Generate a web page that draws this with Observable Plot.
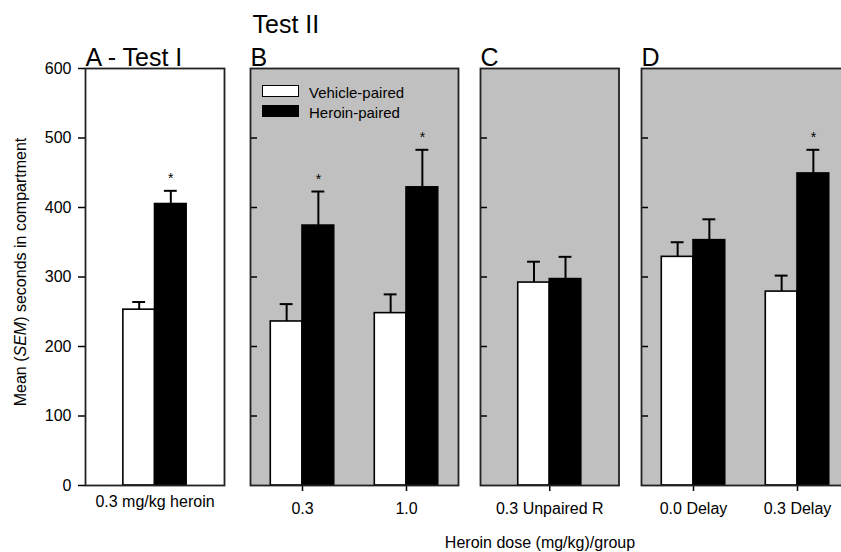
<!DOCTYPE html>
<html>
<head>
<meta charset="utf-8">
<script src="https://cdn.jsdelivr.net/npm/d3@7"></script>
<script src="https://cdn.jsdelivr.net/npm/@observablehq/plot@0.6"></script>
<style>
  html, body { margin: 0; padding: 0; background: #fff; }
  #chart { position: relative; width: 841px; height: 552px; overflow: hidden;
           font-family: "Liberation Sans", Arial, sans-serif; color: #000; background: #fff; }
  .abs { position: absolute; white-space: nowrap; }
  #chart svg { position: absolute; top: 0; overflow: visible; }
</style>
</head>
<body>
<div id="chart"></div>
<script>
// ---------------- data ----------------
const panelIds = ["A", "B", "C", "D"];
const panelTitles = ["A - Test I", "B", "C", "D"];
const supTitle = "Test II";
const groups = ["0.3 mg/kg heroin", "0.3", "1.0", "0.3 Unpaired R", "0.0 Delay", "0.3 Delay"];
const groupPanel = ["A", "B", "B", "C", "D", "D"];
const seriesNames = ["Vehicle-paired", "Heroin-paired"];
const vehicleMean = [253, 236, 248, 292, 329, 279];
const vehicleSEM = [11, 25, 27, 30, 21, 23];
const heroinMean = [405, 374, 429, 297, 353, 449];
const heroinSEM = [19, 49, 54, 32, 30, 34];
const heroinSignificant = [true, true, true, false, false, true];
const yTicks = [0, 100, 200, 300, 400, 500, 600];
const yLabel = ["Mean (", "SEM", ") seconds in compartment"];
const xLabel = "Heroin dose (mg/kg)/group";

// ---------------- layout / style ----------------
const FONT = '"Liberation Sans", Arial, sans-serif';
const H = 530, MT = 68, MB = H - 485;
const layout = {
  A: {left: 85,    inner: 139,   pad: 0.67, bg: "#ffffff", mL: 85, tick: 0},
  B: {left: 250,   inner: 208,   pad: 0.5,  bg: "#c0c0c0", mL: 6,  tick: 6},
  C: {left: 479.5, inner: 138.5, pad: 0.67, bg: "#c0c0c0", mL: 6,  tick: 6},
  D: {left: 640.5, inner: 208,   pad: 0.5,  bg: "#c0c0c0", mL: 6,  tick: 6}
};
const barW = 0.305, capHalf = 0.062;
const chart = document.getElementById("chart");

panelIds.forEach((p, pi) => {
  const L = layout[p];
  const idx = groups.map((g, i) => i).filter(i => groupPanel[i] === p);
  const rows = [];
  idx.forEach((gi, k) => {
    rows.push({k, series: seriesNames[0], mean: vehicleMean[gi], sem: vehicleSEM[gi], sig: false, side: -1});
    rows.push({k, series: seriesNames[1], mean: heroinMean[gi], sem: heroinSEM[gi], sig: heroinSignificant[gi], side: 1});
  });
  rows.forEach(d => {
    d.x1 = d.side < 0 ? d.k - barW : d.k;
    d.x2 = d.side < 0 ? d.k : d.k + barW;
    d.c = d.k + d.side * barW / 2;
    d.top = d.mean + d.sem;
  });
  const mR = 6;
  const width = L.mL + L.inner + mR;
  const marks = [
    Plot.frame({fill: L.bg, stroke: "none"}),
    Plot.rectY(rows, {x1: "x1", x2: "x2", y1: 0, y2: "mean", fill: "series", stroke: "#000", strokeWidth: 1.6}),
    Plot.ruleX(rows, {x: "c", y1: "mean", y2: "top", stroke: "#000", strokeWidth: 2}),
    Plot.ruleY(rows, {y: "top", x1: d => d.c - capHalf, x2: d => d.c + capHalf, stroke: "#000", strokeWidth: 2}),
    Plot.text(rows.filter(d => d.sig), {x: "c", y: "top", text: d => "*", dy: -12, fontSize: 14, lineAnchor: "middle", fill: "#000"}),
    Plot.axisX({ticks: idx.map((g, k) => k), tickFormat: k => groups[idx[k]], tickSize: L.tick,
                tickPadding: L.tick ? 11 : 10.6, fontSize: 16, label: null, strokeWidth: 1.5}),
    Plot.text([panelTitles[pi]], {frameAnchor: "top-left", textAnchor: "start", lineAnchor: "bottom",
                                  dy: -3, fontSize: 25, fill: "#000"})
  ];
  if (p === "A") {
    marks.push(Plot.axisY({ticks: yTicks, tickSize: 7, tickPadding: 7, fontSize: 16, label: null, strokeWidth: 1.5}));
  } else {
    marks.push(Plot.tickY(yTicks.slice(1, -1), {y: d => d, insetRight: L.inner - 7, stroke: "#000", strokeWidth: 1.5}));
  }
  if (p === "B") {
    marks.push(Plot.text([supTitle], {frameAnchor: "top-left", textAnchor: "start", lineAnchor: "bottom",
                                      dx: 2, dy: -36, fontSize: 25, fill: "#000"}));
  }
  marks.push(Plot.frame({stroke: "#222", strokeWidth: 1.8, fill: "none"}));

  const svg = Plot.plot({
    width, height: H,
    marginLeft: L.mL, marginRight: mR, marginTop: MT, marginBottom: MB,
    x: {type: "linear", domain: [-L.pad, idx.length - 1 + L.pad], axis: null},
    y: {domain: [0, 600], axis: null},
    color: {domain: seriesNames, range: ["#ffffff", "#000000"]},
    style: {fontFamily: FONT, fontSize: "16px", background: "transparent", color: "#000", overflow: "visible"},
    marks
  });
  svg.style.left = (L.left - L.mL) + "px";
  chart.appendChild(svg);
});

// y-axis title (rotated, with italic SEM)
const yl = document.createElement("div");
yl.className = "abs";
yl.style.cssText = "left:21px;top:272px;transform:translate(-50%,-50%) rotate(-90deg);font-size:16px;";
yl.append(yLabel[0]);
const it = document.createElement("i"); it.textContent = yLabel[1]; yl.append(it);
yl.append(yLabel[2]);
chart.appendChild(yl);

// x-axis title
const xl = document.createElement("div");
xl.className = "abs";
xl.style.cssText = "left:540px;top:543px;transform:translate(-50%,-50%);font-size:16px;";
xl.textContent = xLabel;
chart.appendChild(xl);

// legend
const legendFill = ["#ffffff", "#000000"];
const legendTop = [85, 105];
seriesNames.forEach((s, i) => {
  const sw = document.createElement("div");
  sw.className = "abs";
  sw.style.cssText = `left:262px;top:${legendTop[i]}px;width:35px;height:10px;border:1.5px solid #000;background:${legendFill[i]};`;
  chart.appendChild(sw);
  const tx = document.createElement("div");
  tx.className = "abs";
  tx.style.cssText = `left:309px;top:${legendTop[i] + 6.5}px;transform:translateY(-50%);font-size:15px;line-height:1;`;
  tx.textContent = s;
  chart.appendChild(tx);
});
</script>
</body>
</html>
